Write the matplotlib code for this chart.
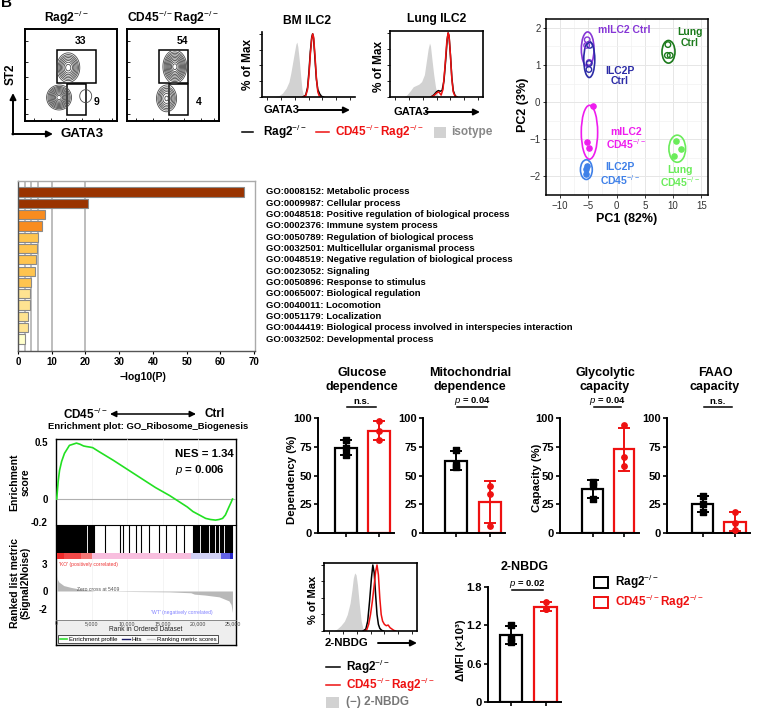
import numpy as np
import matplotlib
matplotlib.use('Agg')
import matplotlib.pyplot as plt
from matplotlib.patches import Ellipse, Rectangle, FancyArrowPatch
from matplotlib.lines import Line2D

plt.rcParams['font.family'] = ['Liberation Sans', 'DejaVu Sans']
plt.rcParams['mathtext.fontset'] = 'custom'
plt.rcParams['mathtext.rm'] = 'Liberation Sans'
plt.rcParams['mathtext.it'] = 'Liberation Sans:italic'
plt.rcParams['mathtext.bf'] = 'Liberation Sans:bold'

KO = r'$^{-/-}$'
RAG = 'Rag2' + KO
CDRAG = 'CD45' + KO + 'Rag2' + KO
RED = '#ee1111'

# ---------------- data ----------------
# flow contour populations (GATA3, ST2 centre, spread, weight)
pops_rag = [(47, 58, 5.0, 6.4, 0.7), (37, 25.5, 5.1, 5.1, 1.0), (66, 27, 5.5, 6.0, 0.06)]
pops_cd45 = [(52, 59, 4.9, 6.8, 1.0), (43, 24.5, 4.6, 6.1, 0.5)]
gates_rag = [(35, 77, 41.5, 77), (46, 66, 6.5, 40)]
gates_cd45 = [(35, 66, 41.5, 77), (46, 66, 6.5, 40)]
gate_pct_rag = [33, 9]
gate_pct_cd45 = [54, 4]

# GATA3 histograms (intensity, % of max)
bm_iso = [(12, 0), (18, 2), (22, 6), (26, 14), (29, 24), (31, 38), (33, 55), (35, 72), (36.5, 84),
          (37.5, 87), (38.5, 80), (40, 60), (41.5, 35), (43, 12), (44.5, 3), (46, 0)]
bm_rag = [(44, 0), (47, 3), (49, 15), (50.5, 40), (52, 72), (53.5, 95), (54.5, 100), (55.5, 92),
          (57, 60), (58.5, 28), (60, 12), (62, 5), (64, 1), (66, 0)]
bm_cd45 = [(44, 0), (47, 2), (49, 12), (50.5, 35), (52, 68), (53.5, 93), (54.5, 100), (55.5, 95),
           (57, 65), (58.5, 30), (60, 8), (61.5, 2), (63, 0)]
lung_iso = [(14, 0), (18, 3), (22, 10), (25, 16), (28, 18), (31, 20), (34, 24), (37, 35), (39, 55),
            (41, 75), (42.5, 84), (43.5, 80), (45, 60), (47, 35), (49, 15), (51, 4), (53, 0)]
lung_rag = [(44, 0), (47, 3), (50, 8), (52, 10), (54, 9), (56, 10), (58, 25), (60, 60), (61.5, 90),
            (62.5, 100), (63.5, 95), (65, 65), (66.5, 30), (68, 10), (70, 2), (72, 0)]
lung_cd45 = [(44, 0), (47, 2), (50, 6), (52, 8), (53, 7), (55, 3), (57, 12), (59, 45), (61, 85),
             (62.5, 100), (63.5, 96), (65, 65), (66.5, 28), (68, 8), (70, 1), (72, 0)]

# PCA
mctrl_pc1, mctrl_pc2 = [-5.2, -5.3, -4.85], [1.68, 1.53, 1.07]
pctrl_pc1, pctrl_pc2 = [-4.75, -4.85, -4.9], [1.53, 1.04, 0.88]
lctrl_pc1, lctrl_pc2 = [9.1, 9.0, 9.5], [1.55, 1.26, 1.26]
mcd_pc1, mcd_pc2 = [-4.2, -5.3, -4.9], [-0.11, -1.08, -1.24]
pcd_pc1, pcd_pc2 = [-5.2, -5.35, -5.5], [-1.72, -1.8, -1.93]
lcd_pc1, lcd_pc2 = [10.6, 11.4, 10.25], [-1.05, -1.25, -1.46]

# GO enrichment
go_terms = ['GO:0008152: Metabolic process', 'GO:0009987: Cellular process',
            'GO:0048518: Positive regulation of biological process', 'GO:0002376: Immune system process',
            'GO:0050789: Regulation of biological process', 'GO:0032501: Multicellular organismal process',
            'GO:0048519: Negative regulation of biological process', 'GO:0023052: Signaling',
            'GO:0050896: Response to stimulus', 'GO:0065007: Biological regulation',
            'GO:0040011: Locomotion', 'GO:0051179: Localization',
            'GO:0044419: Biological process involved in interspecies interaction',
            'GO:0032502: Developmental process']
go_logp = [67, 20.7, 7.9, 7.05, 5.9, 5.6, 5.3, 5.0, 4.0, 3.5, 3.45, 3.0, 2.9, 2.0]

# GSEA (rank in thousands)
es_rank = [0, 0.2, 0.4, 0.7, 1.1, 1.5, 1.8, 2.3, 2.8, 3.3, 3.8, 4.2, 4.7, 5.1, 6, 8, 10, 12, 14, 16,
           17.5, 18.5, 19.3, 20.2, 21.1, 21.8, 22.5, 23.0, 23.5, 23.9, 24.4, 24.7, 24.9]
es_score = [0, 0.15, 0.25, 0.33, 0.40, 0.44, 0.47, 0.48, 0.49, 0.48, 0.465, 0.46, 0.455, 0.45, 0.415,
            0.34, 0.26, 0.18, 0.10, 0.03, -0.03, -0.07, -0.11, -0.14, -0.17, -0.18, -0.185, -0.18,
            -0.17, -0.14, -0.07, -0.03, 0]
hits = [0.05, 0.15, 0.25, 0.35, 0.5, 0.6, 0.7, 0.8, 0.95, 1.05, 1.2, 1.35, 1.45, 1.55, 1.7, 1.85, 2.0,
        2.1, 2.3, 2.45, 2.6, 2.75, 2.9, 3.0, 3.15, 3.3, 3.5, 3.6, 3.75, 3.9, 4.05, 4.2, 4.4, 4.55, 4.7,
        4.85, 5.0, 5.15, 5.3, 6.8, 8.9, 9.4, 10.3, 11.2, 12.0, 13.1, 14.5, 15.5, 16.9, 18.1,
        19.3, 19.45, 19.6, 19.75, 19.9, 20.05, 20.2, 20.4, 20.55, 20.7, 20.85, 21.0, 21.2, 21.35, 21.5,
        21.7, 21.85, 22.0, 22.2, 22.35, 22.5, 22.7, 22.9, 23.1, 23.3, 23.45, 23.6, 23.8, 23.95, 24.1,
        24.3, 24.45, 24.6, 24.75, 24.9]
metric_rank = [0, 0.1, 0.3, 1.0, 2.0, 3.0, 4.5, 5.41, 10, 16, 19, 19.5, 21, 23, 24.4, 24.7, 24.9]
metric_val = [1.7, 1.3, 1.0, 0.6, 0.4, 0.25, 0.1, 0, -0.05, -0.1, -0.2, -0.35, -0.45, -0.65, -1.1, -1.5, -2.4]
cbar_edges = [0, 1.0, 3.5, 5.0, 19.0, 23.3, 24.5, 25.0]

# metabolic assays (3 mice per group)
glucose_rag, glucose_cd45 = [81, 74, 68], [97, 89, 81]
mito_rag, mito_cd45 = [72.5, 57, 59], [41, 34, 6]
glyco_rag, glyco_cd45 = [44.5, 40.5, 30], [94, 66, 58]
faao_rag, faao_cd45 = [32, 25.5, 18.5], [18.5, 9, 2.5]
nbdg_rag, nbdg_cd45 = [1.2, 1.0, 0.94], [1.57, 1.46, 1.45]

# 2-NBDG histogram
nb_iso = [(10, 0), (14, 3), (18, 8), (22, 15), (25, 25), (28, 42), (30, 62), (31.5, 80), (33, 88),
          (34.5, 85), (36, 70), (38, 40), (40, 15), (42, 3), (44, 0)]
nb_rag = [(42, 0), (45, 3), (47, 15), (49, 45), (51, 80), (52.5, 100), (54, 88), (55.5, 55), (57, 25),
          (58.5, 10), (60, 4), (62, 1), (64, 0)]
nb_cd45 = [(44, 0), (46, 2), (48, 10), (50, 25), (52, 45), (54, 70), (55.5, 90), (57, 100), (58.5, 85),
           (60, 50), (61.5, 25), (63, 15), (65, 10), (67, 8), (69, 9), (71, 5), (73, 3), (75, 1), (77, 0)]

# ---------------- layout helpers ----------------
W, H = 758, 709
fig = plt.figure(figsize=(W / 100, H / 100), dpi=100)


def px_axes(x0, y0, x1, y1, **kw):
    return fig.add_axes([x0 / W, 1 - y1 / H, (x1 - x0) / W, (y1 - y0) / H], **kw)


def ftxt(x, y, s, **kw):
    kw.setdefault('ha', 'center')
    kw.setdefault('va', 'center')
    return fig.text(x / W, 1 - y / H, s, **kw)


def fline(xs, ys, **kw):
    fig.add_artist(Line2D([x / W for x in xs], [1 - y / H for y in ys], transform=fig.transFigure, **kw))


def farrow(x0, y0, x1, y1, style='-|>', lw=1.4):
    fig.add_artist(FancyArrowPatch((x0 / W, 1 - y0 / H), (x1 / W, 1 - y1 / H), transform=fig.transFigure,
                                   arrowstyle=style, mutation_scale=9, lw=lw, color='k', shrinkA=0, shrinkB=0))


def fbox(x0, y0, x1, y1, **kw):
    fig.add_artist(Rectangle((x0 / W, 1 - y1 / H), (x1 - x0) / W, (y1 - y0) / H,
                             transform=fig.transFigure, **kw))


def xy(pts):
    return [p[0] for p in pts], [p[1] for p in pts]


ftxt(1, 3, 'B', ha='left', fontsize=11, weight='bold')

# ---------------- flow contour plots ----------------
gx = np.linspace(0, 100, 300)
GX, GY = np.meshgrid(gx, gx)


def flow_panel(rect, pops, gates, pcts, title, tx):
    ax = px_axes(*rect)
    Z = np.zeros_like(GX)
    for cx, cy, sx, sy, w in pops:
        Z += w * np.exp(-((GX - cx) ** 2 / (2 * sx ** 2) + (GY - cy) ** 2 / (2 * sy ** 2)))
    lev = Z.max() * np.array([0.03, 0.06, 0.1, 0.16, 0.24, 0.34, 0.46, 0.6, 0.75, 0.9])
    ax.contour(GX, GY, Z, levels=lev, colors='#4a4a4a', linewidths=0.6)
    for x0, x1, y0, y1 in gates:
        ax.add_patch(Rectangle((x0, y0), x1 - x0, y1 - y0, fill=False, lw=1.1, ec='k'))
    ax.text(60, 87, str(pcts[0]), ha='center', va='center', fontsize=7.5, weight='bold')
    ax.text(75, 21, str(pcts[1]), ha='left', va='center', fontsize=7.5, weight='bold')
    ax.set_xlim(0, 100)
    ax.set_ylim(0, 100)
    ax.set_xticks([10, 28, 45, 62, 80, 95])
    ax.set_yticks([8, 24, 48, 64, 87])
    ax.tick_params(direction='in', length=2, width=0.6, labelbottom=False, labelleft=False)
    for s in ax.spines.values():
        s.set_linewidth(1.4)
    ftxt(tx, 18, title, fontsize=8.7, weight='bold')


flow_panel((25, 29, 117, 121), pops_rag, gates_rag, gate_pct_rag, RAG, 67)
flow_panel((127, 29, 219, 121), pops_cd45, gates_cd45, gate_pct_cd45, CDRAG, 173)
farrow(13, 134.5, 13, 93)
farrow(12.3, 134, 53, 134)
ftxt(11, 74, 'ST2', rotation=90, fontsize=8.5, weight='bold')
ftxt(60, 134, 'GATA3', ha='left', fontsize=9.5, weight='bold')

# ---------------- GATA3 histograms ----------------


def hist_panel(rect, iso, blk, red, full_box):
    ax = px_axes(*rect)
    ax.fill_between(*xy(iso), color='#d2d2d2', lw=0)
    ax.plot(*xy(blk), color='k', lw=1.1)
    ax.plot(*xy(red), color=RED, lw=1.1)
    ax.set_xlim(0, 100)
    ax.set_ylim(0, 103)
    ax.set_xticks([5, 20, 35, 50, 65, 80, 95])
    ax.set_yticks([0, 25, 50, 75, 100])
    ax.tick_params(length=2, width=0.6, labelbottom=False, labelleft=False)
    for s in ax.spines.values():
        s.set_linewidth(1.2)
    if not full_box:
        ax.spines['top'].set_visible(False)
        ax.spines['right'].set_visible(False)
    return ax


hist_panel((262, 32, 355, 97), bm_iso, bm_rag, bm_cd45, False)
hist_panel((390, 31, 483, 97), lung_iso, lung_rag, lung_cd45, True)
ftxt(307, 21, 'BM ILC2', fontsize=8.7, weight='bold')
ftxt(437, 19, 'Lung ILC2', fontsize=8.7, weight='bold')
ftxt(248, 65, '% of Max', rotation=90, fontsize=8.5, weight='bold')
ftxt(379, 67, '% of Max', rotation=90, fontsize=8.5, weight='bold')
ftxt(263, 110, 'GATA3', ha='left', fontsize=8, weight='bold')
farrow(298, 110, 350, 110)
ftxt(393, 112, 'GATA3', ha='left', fontsize=8, weight='bold')
farrow(426, 112, 480, 112)
fline([242, 253], [132, 132], color='k', lw=1.1)
ftxt(263, 132, RAG, ha='left', fontsize=8.5, weight='bold')
fline([316, 329], [132, 132], color=RED, lw=1.1)
ftxt(335, 132, CDRAG, ha='left', fontsize=8.5, weight='bold', color=RED)
fbox(434, 127, 446, 138, fc='#d2d2d2', ec='none')
ftxt(451, 132, 'isotype', ha='left', fontsize=8.5, weight='bold', color='#888888')

# ---------------- PCA ----------------
ax = px_axes(546, 19, 708, 195)
ax.set_xlim(-11, 16.2)
ax.set_ylim(-2.4, 2.24)
ax.set_xticks([-10, -5, 0, 5, 10, 15])
ax.set_yticks([-2, -1, 0, 1, 2])
ax.set_xticks(np.arange(-12.5, 17, 5), minor=True)
ax.set_yticks(np.arange(-2.5, 2.5, 1), minor=True)
ax.grid(True, which='major', color='#e6e6e6', lw=0.7)
ax.grid(True, which='minor', color='#f2f2f2', lw=0.5)
ax.set_axisbelow(True)
ax.tick_params(which='minor', length=0)
ax.tick_params(which='major', length=2.5, width=0.7, labelsize=7, colors='#333333', pad=1.5)
for s in ax.spines.values():
    s.set_linewidth(1.1)
groups = [(mctrl_pc1, mctrl_pc2, '#8636d6', False), (pctrl_pc1, pctrl_pc2, '#2b2ba6', False),
          (lctrl_pc1, lctrl_pc2, '#1b7a1b', False), (mcd_pc1, mcd_pc2, '#ee1cee', True),
          (pcd_pc1, pcd_pc2, '#3f80e8', True), (lcd_pc1, lcd_pc2, '#6aec5a', True)]
for p1, p2, col, filled in groups:
    if filled:
        ax.scatter(p1, p2, s=14, color=col, zorder=3)
    else:
        ax.scatter(p1, p2, s=16, facecolor='none', edgecolor=col, lw=1.0, zorder=3)
    cx, cy = np.mean(p1), np.mean(p2)
    ax.add_patch(Ellipse((cx, cy), np.ptp(p1) + 1.8, np.ptp(p2) + 0.32, fill=False, ec=col, lw=1.2))
lab_kw = dict(ha='center', va='center', fontsize=7.5, weight='bold', linespacing=1.05)
ax.text(1.4, 1.95, 'mILC2 Ctrl', color='#8636d6', **lab_kw)
ax.text(13.0, 1.74, 'Lung\nCtrl', color='#1b7a1b', **lab_kw)
ax.text(0.6, 0.71, 'ILC2P\nCtrl', color='#2b2ba6', **lab_kw)
ax.text(1.75, -1.0, 'mILC2\nCD45' + KO, color='#ee1cee', **lab_kw)
ax.text(0.6, -1.95, 'ILC2P\nCD45' + KO, color='#3f80e8', **lab_kw)
ax.text(11.3, -2.02, 'Lung\nCD45' + KO, color='#6aec5a', **lab_kw)
ftxt(627, 219, 'PC1 (82%)', fontsize=9, weight='bold')
ftxt(523, 105, 'PC2 (3%)', rotation=90, fontsize=9, weight='bold')

# ---------------- GO enrichment bars ----------------


def go_color(v):
    if v >= 10:
        return '#993300'
    if v >= 6:
        return '#f88c1f'
    if v >= 3.9:
        return '#fec44f'
    if v >= 2.5:
        return '#fee391'
    return '#ffffcc'


ax = px_axes(18, 181, 255, 351)
ypos = np.arange(len(go_logp))
for xv in [2, 4, 6, 10, 20]:
    ax.axvline(xv, color='#bdbdbd', lw=1.4, zorder=0)
ax.barh(ypos, go_logp, height=0.82, color=[go_color(v) for v in go_logp], edgecolor='#8a8a8a', lw=0.8,
        zorder=2)
ax.set_xlim(0, 70.3)
ax.set_ylim(14.06, -0.97)
ax.set_yticks([])
ax.set_xticks(range(0, 71, 10))
ax.tick_params(axis='x', length=2.5, width=0.8, labelsize=7, pad=2)
plt.setp(ax.get_xticklabels(), fontweight='bold')
for k, s in ax.spines.items():
    s.set_color('#555555' if k in ('left', 'bottom') else '#aaaaaa')
    s.set_linewidth(1.0)
for i, t in enumerate(go_terms):
    ax.text(73.6, i, t, ha='left', va='center', fontsize=6.8, weight='bold', clip_on=False)
ftxt(143, 377, '\u2212log10(P)', fontsize=7.5, weight='bold')

# ---------------- GSEA ----------------
XL = (-0.1, 25.4)
ax_box = px_axes(56, 439, 236, 645)
ax_box.set_xticks([])
ax_box.set_yticks([])
for s in ax_box.spines.values():
    s.set_linewidth(1.0)
ax_box.add_patch(Rectangle((0, 0), 1, 25 / 206, transform=ax_box.transAxes, fc='#eeeeee', ec='none'))

ax_es = px_axes(56, 439, 236, 525, facecolor='none')
ax_es.set_xlim(*XL)
ax_es.set_ylim(-0.228, 0.526)
for xv in range(5, 25, 5):
    ax_es.axvline(xv, color='#f0f0f0', lw=0.5, zorder=0)
ax_es.axhline(0, color='#b0b0b0', lw=0.8)
ax_es.plot(es_rank, es_score, color='#22e022', lw=1.2)
ax_es.set_xticks([])
ax_es.set_yticks([0.5, 0, -0.2])
ax_es.set_yticklabels(['0.5', '0', '-0.2'])
ax_es.tick_params(axis='y', length=0, labelsize=7, pad=6)
plt.setp(ax_es.get_yticklabels(), fontweight='bold')
for s in ax_es.spines.values():
    s.set_visible(False)
ax_es.text(0.66, 0.82, 'NES = 1.34', transform=ax_es.transAxes, fontsize=8.2, weight='bold', va='center')
ax_es.text(0.66, 0.64, r'$\mathit{p}$ = 0.006', transform=ax_es.transAxes, fontsize=8.2, weight='bold',
           va='center')

ax_h = px_axes(56, 525, 236, 553, facecolor='none')
ax_h.set_xlim(*XL)
ax_h.set_ylim(0, 1)
ax_h.vlines(hits, 0, 1, color='k', lw=0.8)
ax_h.axis('off')
fline([56, 236], [525, 525], color='k', lw=0.8)

ax_c = px_axes(56, 553, 236, 559)
ax_c.set_xlim(*XL)
cbar_cols = ['#ee2a2a', '#f24848', '#f47575', '#f8bede', '#cfcff4', '#6262e6', '#2525c8']
for a, b, c in zip(cbar_edges[:-1], cbar_edges[1:], cbar_cols):
    ax_c.axvspan(a, b, color=c, lw=0)
ax_c.axis('off')

ax_r = px_axes(56, 559, 236, 620, facecolor='none')
ax_r.set_xlim(*XL)
ax_r.set_ylim(-3.22, 3.55)
for xv in range(5, 25, 5):
    ax_r.axvline(xv, color='#f0f0f0', lw=0.5, zorder=0)
ax_r.fill_between(metric_rank, metric_val, 0, color='#b8b8b8', lw=0)
ax_r.set_yticks([3, 0, -2])
ax_r.set_yticklabels(['3', '0', '-2'])
ax_r.set_xticks(range(0, 26, 5))
ax_r.set_xticklabels(['0', '5,000', '10,000', '15,000', '20,000', '25,000'])
ax_r.tick_params(axis='y', length=0, labelsize=7, pad=6)
ax_r.tick_params(axis='x', length=0, labelsize=3.8, pad=0.8, colors='#444444')
plt.setp(ax_r.get_yticklabels(), fontweight='bold')
for k, s in ax_r.spines.items():
    s.set_visible(k == 'bottom')
    s.set_linewidth(0.6)
    s.set_color('#777777')
ax_r.text(0.3, 2.9, "'KO' (positively correlated)", fontsize=3.6, color='#ee3333', va='center')
ax_r.text(2.9, 0.2, 'Zero cross at 5409', fontsize=3.6, color='#555555', va='center')
ax_r.text(13.3, -2.4, "'WT' (negatively correlated)", fontsize=3.6, color='#8080ff', va='center')
ftxt(146, 629.5, 'Rank in Ordered Dataset', fontsize=4.8, color='#222222')
leg = fig.legend([Line2D([], [], color='#33dd33', lw=1.2), Line2D([], [], color='#1a1a66', lw=1.0),
                  Line2D([], [], color='#cccccc', lw=1.0)],
                 ['Enrichment profile', 'Hits', 'Ranking metric scores'], loc='center',
                 bbox_to_anchor=(138 / W, 1 - 639 / H), ncol=3, fontsize=4.3, frameon=True, fancybox=False,
                 edgecolor='k', borderpad=0.25, handlelength=1.3, handletextpad=0.3, columnspacing=0.8)
leg.get_frame().set_linewidth(0.6)
leg.get_frame().set_facecolor('white')

ftxt(86, 414, 'CD45' + KO, fontsize=8.5, weight='bold')
farrow(110, 414, 196, 414, style='<|-|>', lw=1.1)
ftxt(215, 414, 'Ctrl', fontsize=8.5, weight='bold')
ftxt(148, 427, 'Enrichment plot: GO_Ribosome_Biogenesis', fontsize=6.8, weight='bold')
ftxt(20, 482, 'Enrichment\nscore', rotation=90, fontsize=7.5, weight='bold', linespacing=1.1)
ftxt(20, 583, 'Ranked list metric\n(Signal2Noise)', rotation=90, fontsize=7.5, weight='bold',
     linespacing=1.1)

# ---------------- metabolic bar panels ----------------


def bar_panel(left, c0, c1, top, bot, rag, cd45, ytop, yticks, yticklabels, sig, sig_y):
    sp = c1 - c0
    ax = px_axes(left, top, c1 + 15, bot)
    ax.set_xlim(-(c0 - left) / sp, 1 + 15 / sp)
    ax.set_ylim(0, ytop)
    for i, (vals, col, mk) in enumerate([(rag, 'k', 's'), (cd45, RED, 'o')]):
        m = np.mean(vals)
        sd = np.std(vals, ddof=1)
        ax.bar(i, m, width=0.65, facecolor='white', edgecolor=col, lw=1.6, zorder=1)
        ax.errorbar(i, m, yerr=sd, color=col, capsize=4, elinewidth=1.4, capthick=1.4, zorder=2)
        ax.scatter([i] * len(vals), vals, marker=mk, s=15, color=col, zorder=3)
    ax.set_xticks([0, 1])
    ax.set_xticklabels([])
    ax.set_yticks(yticks)
    ax.set_yticklabels(yticklabels)
    ax.tick_params(length=3, width=1.2, labelsize=8, pad=1.5)
    plt.setp(ax.get_yticklabels(), fontweight='bold')
    ax.spines['top'].set_visible(False)
    ax.spines['right'].set_visible(False)
    for k in ('left', 'bottom'):
        ax.spines[k].set_linewidth(1.4)
    fline([c0 + 1, c1 - 3], [sig_y, sig_y], color='k', lw=1.1)
    ftxt((c0 + c1) / 2 - 1, sig_y - 6, sig, fontsize=6.8, weight='bold')
    return ax


pct_ticks = [0, 25, 50, 75, 100]
pct_labels = ['0', '25', '50', '75', '100']
PV = r'$\mathit{p}$ = 0.04'
bar_panel(318, 345.8, 379, 418, 533, glucose_rag, glucose_cd45, 100, pct_ticks, pct_labels, 'n.s.', 407)
bar_panel(423, 456, 490, 418, 533, mito_rag, mito_cd45, 100, pct_ticks, pct_labels, PV, 407)
bar_panel(560, 592.5, 624, 418, 533, glyco_rag, glyco_cd45, 100, pct_ticks, pct_labels, PV, 407)
bar_panel(667, 702.5, 735, 418, 533, faao_rag, faao_cd45, 100, pct_ticks, pct_labels, 'n.s.', 407)
bar_panel(488, 511, 545.5, 587, 702, nbdg_rag, nbdg_cd45, 1.8, [0, 0.6, 1.2, 1.8],
          ['0', '0.6', '1.2', '1.8'], r'$\mathit{p}$ = 0.02', 590)

tkw = dict(fontsize=9, weight='bold', linespacing=1.15)
ftxt(362, 380, 'Glucose\ndependence', **tkw)
ftxt(470, 380, 'Mitochondrial\ndependence', **tkw)
ftxt(605, 380, 'Glycolytic\ncapacity', **tkw)
ftxt(715, 380, 'FAAO\ncapacity', **tkw)
ftxt(525, 567, '2-NBDG', fontsize=9, weight='bold')
ftxt(292, 480, 'Dependency (%)', rotation=90, fontsize=8.2, weight='bold')
ftxt(537, 478, 'Capacity (%)', rotation=90, fontsize=8.2, weight='bold')
ftxt(461, 650, '\u0394MFI (\u00d710\u00b3)', rotation=90, fontsize=8.2, weight='bold')

# ---------------- 2-NBDG histogram ----------------
hist_panel((324, 563, 417, 631), nb_iso, nb_rag, nb_cd45, True)
ftxt(313, 600, '% of Max', rotation=90, fontsize=8, weight='bold')
ftxt(325, 643, '2-NBDG', ha='left', fontsize=8.2, weight='bold')
farrow(378, 643, 417, 643)
fline([326, 340], [667, 667], color='k', lw=1.1)
ftxt(346, 667, RAG, ha='left', fontsize=8.5, weight='bold')
fline([326, 340], [685, 685], color=RED, lw=1.1)
ftxt(346, 685, CDRAG, ha='left', fontsize=8.5, weight='bold', color=RED)
fbox(326, 697, 339, 708, fc='#d2d2d2', ec='none')
ftxt(346, 702, '(\u2212) 2-NBDG', ha='left', fontsize=8.5, weight='bold', color='#777777')

# right legend for bar groups
fbox(594, 577, 608, 588, fc='white', ec='k', lw=1.4)
ftxt(615, 582, RAG, ha='left', fontsize=8.5, weight='bold')
fbox(594, 597, 608, 608, fc='white', ec=RED, lw=1.4)
ftxt(615, 602, CDRAG, ha='left', fontsize=8.5, weight='bold', color=RED)

fig.savefig('out.png', dpi=100)
